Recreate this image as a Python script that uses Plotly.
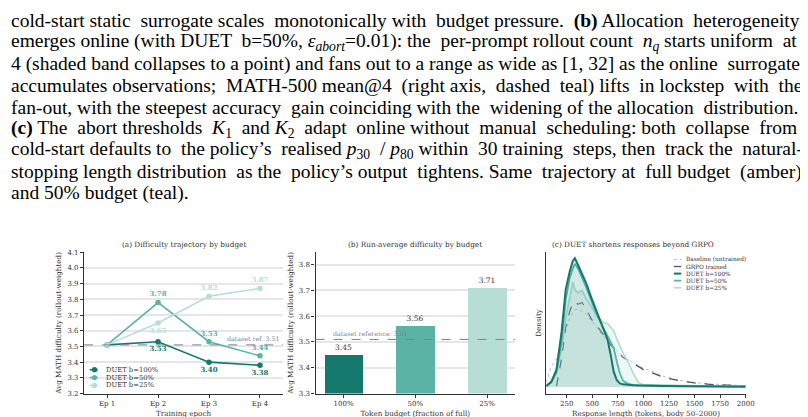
import plotly.graph_objects as go

W, H = 808, 417

# caption text lines (the figure is embedded under a paper caption)
caption_lines = [
    "cold-start static surrogate scales monotonically with budget pressure. <b>(b)</b> Allocation heterogeneity",
    "emerges online (with DUET b=50%, <i>ε</i><sub><i>abort</i></sub>=0.01): the per-prompt rollout count <i>n</i><sub><i>q</i></sub> starts uniform at",
    "4 (shaded band collapses to a point) and fans out to a range as wide as [1, 32] as the online surrogate",
    "accumulates observations; MATH-500 mean@4 (right axis, dashed teal) lifts in lockstep with the",
    "fan-out, with the steepest accuracy gain coinciding with the widening of the allocation distribution.",
    "<b>(c)</b> The abort thresholds <i>K</i><sub>1</sub> and <i>K</i><sub>2</sub> adapt online without manual scheduling: both collapse from",
    "cold-start defaults to the policy’s realised <i>p</i><sub>30</sub> / <i>p</i><sub>80</sub> within 30 training steps, then track the natural-",
    "stopping length distribution as the policy’s output tightens. Same trajectory at full budget (amber)",
    "and 50% budget (teal).",
]
# extra word gaps per line so the paragraph looks justified
caption_pad = [5, 4, 1, 7, 3, 9, 7, 6, 0]

# (a) difficulty trajectory by budget
epochs = ["Ep 1", "Ep 2", "Ep 3", "Ep 4"]
traj_100 = [3.51, 3.53, 3.40, 3.38]
traj_50 = [3.51, 3.78, 3.53, 3.44]
traj_25 = [3.51, 3.65, 3.82, 3.87]
dataset_ref = 3.51

# (b) run-average difficulty
budgets = ["100%", "50%", "25%"]
run_avg = [3.45, 3.56, 3.71]

# (c) response-length densities (x1e-3 per token)
lengths = [50, 100, 150, 200, 240, 280, 310, 330, 360, 400, 440, 490, 550, 610, 650,
           680, 710, 740, 770, 800, 850, 900, 950, 1000, 1100, 1200, 1350, 1500, 1650, 1800, 2000]
dens_base = [0.10, 0.45, 0.62, 0.95, 1.25, 1.50, 1.62, 1.68, 1.70, 1.65, 1.58, 1.45, 1.28, 1.10, 1.00,
             0.93, 0.87, 0.80, 0.74, 0.67, 0.60, 0.54, 0.47, 0.41, 0.33, 0.23, 0.15, 0.10, 0.07, 0.05, 0.03]
dens_grpo = [None, None, 0.02, 0.62, 1.30, 1.65, 1.82, 1.86, 1.80, 1.84, 1.70, 1.48, 1.32, 1.14, 1.00,
             0.92, 0.85, 0.78, 0.72, 0.65, 0.58, 0.52, 0.45, 0.38, 0.29, 0.21, 0.14, 0.09, 0.06, 0.04, 0.02]
dens_100 = [0.02, 0.12, 0.38, 1.20, 2.12, 2.52, 2.74, 2.80, 2.66, 2.45, 2.26, 1.95, 1.60, 1.28, 1.03,
            0.70, 0.33, 0.15, 0.08, 0.06, 0.045, 0.04, 0.035, 0.03, 0.03, 0.025, 0.02, 0.02, 0.015, 0.015, 0.01]
dens_50 = [0.03, 0.10, 0.33, 1.00, 1.90, 2.38, 2.58, 2.68, 2.58, 2.38, 2.17, 1.88, 1.55, 1.28, 1.12,
           1.00, 0.85, 0.55, 0.30, 0.14, 0.07, 0.05, 0.045, 0.04, 0.035, 0.03, 0.025, 0.02, 0.02, 0.015, 0.015]
dens_25 = [0.04, 0.10, 0.30, 0.85, 1.50, 1.95, 2.28, 2.12, 2.05, 2.10, 1.92, 1.75, 1.52, 1.40, 1.38,
           1.30, 1.22, 1.05, 0.90, 0.75, 0.55, 0.30, 0.10, 0.05, 0.04, 0.035, 0.03, 0.025, 0.02, 0.02, 0.015]

# styling
DARK = "#14786c"
MID = "#5bb3a6"
LIGHT = "#b7ded5"
GRPO = "#4b5573"
BASE = "#b4bccb"
REF = "#7a8194"
AXIS = "#333333"
GRID = "#e6e6e6"
SERIF = "DejaVu Serif"
CAPTION_FONT = "Liberation Serif"


def px(x):
    return x / W


def py(y):
    return 1 - y / H


def justify(line, extra):
    """Spread extra non-breaking spaces over the word gaps of a line."""
    words = line.split(" ")
    gaps = len(words) - 1
    if extra <= 0 or gaps <= 0:
        return line
    out = words[0]
    for i, word in enumerate(words[1:]):
        n = extra * (i + 1) // gaps - extra * i // gaps
        out += " " + "\u00a0" * n + word
    return out


plot_top, plot_bottom = 245, 389
dom_y = [py(plot_bottom), py(plot_top)]

fig = go.Figure()

# ---- panel (a)
for vals, color, pos in [
    (traj_100, DARK, ["top center", "bottom center", "bottom center", "bottom center"]),
    (traj_50, MID, ["top center", "top center", "top center", "top center"]),
    (traj_25, LIGHT, ["top center", "bottom center", "top center", "top center"]),
]:
    fig.add_trace(go.Scatter(
        x=epochs, y=vals, mode="lines+markers+text",
        text=[" "] + [f"{v:.2f}" for v in vals[1:]],
        textposition=pos,
        textfont=dict(family=SERIF, size=7, color=color, weight="bold"),
        line=dict(color=color, width=1.6),
        marker=dict(color=color, size=5.5),
        xaxis="x", yaxis="y", showlegend=False, cliponaxis=False,
    ))

# ---- panel (b)
fig.add_trace(go.Bar(
    x=budgets, y=run_avg, width=0.54,
    marker=dict(color=[DARK, MID, LIGHT], line=dict(width=0)),
    text=[f"{v:.2f}" for v in run_avg], textposition="outside",
    textfont=dict(family=SERIF, size=7.5, color=AXIS),
    xaxis="x2", yaxis="y2", showlegend=False, cliponaxis=False,
))

# ---- panel (c)
fig.add_trace(go.Scatter(
    x=lengths, y=dens_base, mode="lines",
    line=dict(color=BASE, width=1, dash="dot"),
    xaxis="x3", yaxis="y3", showlegend=False,
))
fig.add_trace(go.Scatter(
    x=lengths, y=dens_grpo, mode="lines",
    line=dict(color=GRPO, width=1.3, dash="dash"),
    xaxis="x3", yaxis="y3", showlegend=False,
))
for vals, color, fillc, width in [
    (dens_25, LIGHT, "rgba(183,222,213,0.25)", 1.8),
    (dens_50, MID, "rgba(91,179,166,0.12)", 1.8),
    (dens_100, DARK, "rgba(20,120,108,0.10)", 2.0),
]:
    fig.add_trace(go.Scatter(
        x=lengths, y=vals, mode="lines", fill="tozeroy", fillcolor=fillc,
        line=dict(color=color, width=width),
        xaxis="x3", yaxis="y3", showlegend=False,
    ))

tick_font = dict(family=SERIF, size=7, color=AXIS)
title_font = dict(family=SERIF, size=7.2, color=AXIS)
axis_common = dict(
    showline=True, linecolor=AXIS, linewidth=1.3, ticks="outside", ticklen=3,
    tickwidth=1, tickcolor=AXIS, tickfont=tick_font, zeroline=False,
)

fig.update_layout(
    width=W, height=H, autosize=False,
    margin=dict(l=0, r=0, t=0, b=0),
    paper_bgcolor="white", plot_bgcolor="white",
    bargap=0,
    xaxis=dict(
        axis_common, domain=[px(77), px(278)], anchor="y", type="category",
        range=[-0.45, 3.45], showgrid=False,
        title=dict(text="Training epoch", font=title_font, standoff=3),
    ),
    yaxis=dict(
        axis_common, domain=dom_y, anchor="x", range=[3.2, 4.1],
        tickvals=[3.2, 3.3, 3.4, 3.5, 3.6, 3.7, 3.8, 3.9, 4.0, 4.1],
        ticktext=["3.2", "3.3", "3.4", "3.5", "3.6", "3.7", "3.8", "3.9", "4.0", "4.1"],
        showgrid=True, gridcolor=GRID, gridwidth=1.5,
        title=dict(text="Avg MATH difficulty (rollout-weighted)", font=title_font, standoff=4),
    ),
    xaxis2=dict(
        axis_common, domain=[px(311), px(512.7)], anchor="y2", type="category",
        range=[-0.39, 2.39], showgrid=False,
        title=dict(text="Token budget (fraction of full)", font=title_font, standoff=3),
    ),
    yaxis2=dict(
        axis_common, domain=dom_y, anchor="x2", range=[3.3, 3.848],
        tickvals=[3.3, 3.4, 3.5, 3.6, 3.7, 3.8],
        ticktext=["3.3", "3.4", "3.5", "3.6", "3.7", "3.8"],
        showgrid=True, gridcolor=GRID, gridwidth=1.5,
        title=dict(text="Avg MATH difficulty (rollout-weighted)", font=title_font, standoff=4),
    ),
    xaxis3=dict(
        axis_common, domain=[px(544.3), px(746)], anchor="y3", range=[50, 2000],
        tickvals=[250, 500, 750, 1000, 1250, 1500, 1750, 2000], showgrid=False,
        title=dict(text="Response length (tokens, body 50–2000)", font=title_font, standoff=3),
    ),
    yaxis3=dict(
        showline=True, linecolor=AXIS, linewidth=1.3, zeroline=False, domain=dom_y,
        anchor="x3", range=[-0.14, 2.93], showticklabels=False, ticks="", showgrid=False,
        title=dict(text="Density", font=title_font, standoff=2),
    ),
)

# reference lines
fig.add_shape(type="line", xref="x domain", yref="y", x0=0, x1=1, y0=dataset_ref, y1=dataset_ref,
              line=dict(color=REF, width=1, dash="dash"))
fig.add_shape(type="line", xref="x2 domain", yref="y2", x0=0, x1=1, y0=dataset_ref, y1=dataset_ref,
              line=dict(color=REF, width=1, dash="dash"))
fig.add_annotation(xref="x domain", yref="y", x=0.99, y=dataset_ref, xanchor="right", yanchor="bottom",
                   text=f"dataset ref. {dataset_ref:.2f}", showarrow=False, yshift=1,
                   font=dict(family=SERIF, size=6.3, color=REF))
fig.add_annotation(xref="x2 domain", yref="y2", x=(366.5 - 311) / 201.7, y=dataset_ref, xanchor="center",
                   yanchor="bottom", text=f"dataset reference: {dataset_ref:.2f}", showarrow=False, yshift=0,
                   font=dict(family=SERIF, size=6.3, color=REF))

# panel titles
for text, xc in [
    ("(a) Difficulty trajectory by budget", 177.5),
    ("(b) Run-average difficulty by budget", 411.5),
    ("(c) DUET shortens responses beyond GRPO", 632),
]:
    fig.add_annotation(xref="paper", yref="paper", x=px(xc), y=py(237.5), text=text, showarrow=False,
                       xanchor="center", yanchor="middle", font=dict(family=SERIF, size=7.3, color=AXIS))

# legend for (a), drawn by hand to keep matplotlib-like spacing
legend_a = [("DUET b=100%", DARK), ("DUET b=50%", MID), ("DUET b=25%", LIGHT)]
for i, (name, color) in enumerate(legend_a):
    yy = (plot_bottom - (364.7 + 8 * i)) / (plot_bottom - plot_top)
    fig.add_shape(type="line", xref="x domain", yref="y domain", x0=0.028, x1=0.077, y0=yy, y1=yy,
                  line=dict(color=color, width=1.5, dash="3px,2px"))
    fig.add_shape(type="circle", xref="x domain", yref="y domain", xsizemode="pixel", ysizemode="pixel",
                  xanchor=0.052, yanchor=yy, x0=-2.6, x1=2.6, y0=-2.6, y1=2.6,
                  fillcolor=color, line=dict(width=0))
    fig.add_annotation(xref="x domain", yref="y domain", x=0.098, y=yy, text=name, showarrow=False,
                       xanchor="left", yanchor="middle", font=dict(family=SERIF, size=6.8, color=AXIS))

# legend for (c)
legend_c = [
    ("Baseline (untrained)", BASE, "dot", 1),
    ("GRPO trained", GRPO, "dash", 1.3),
    ("DUET b=100%", DARK, "solid", 2),
    ("DUET b=50%", MID, "solid", 1.8),
    ("DUET b=25%", LIGHT, "solid", 1.8),
]
for i, (name, color, dash, width) in enumerate(legend_c):
    yy = (plot_bottom - (252.3 + 7.2 * i)) / (plot_bottom - plot_top)
    fig.add_shape(type="line", xref="x3 domain", yref="y3 domain", x0=0.640, x1=0.677, y0=yy, y1=yy,
                  line=dict(color=color, width=width, dash=dash))
    fig.add_annotation(xref="x3 domain", yref="y3 domain", x=0.693, y=yy, text=name, showarrow=False,
                       xanchor="left", yanchor="middle", font=dict(family=SERIF, size=5.8, color=AXIS))

# caption text
for i, (line, pad) in enumerate(zip(caption_lines, caption_pad)):
    fig.add_annotation(xref="paper", yref="paper", x=px(1), y=py(9 + 22 * i), text=justify(line, pad),
                       showarrow=False, xanchor="left", yanchor="middle", align="left",
                       font=dict(family=CAPTION_FONT, size=19.5, color="black"))

fig.write_html("out.html")
